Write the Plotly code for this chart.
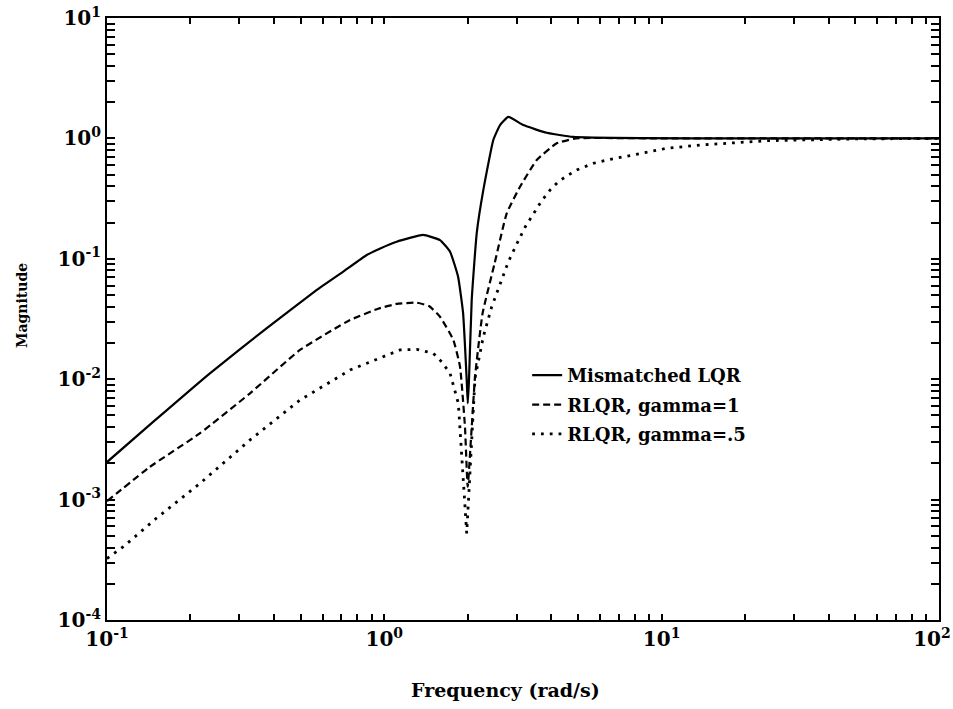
import plotly.graph_objects as go

# Frequency (rad/s) and magnitude readings
freq_lqr = [0.1, 0.147, 0.235, 0.377, 0.571, 0.711, 0.864, 0.967, 1.108, 1.379, 1.588,
            1.726, 1.845, 1.923, 1.982, 2.0, 2.02, 2.066, 2.154, 2.275, 2.472, 2.614,
            2.801, 3.171, 3.852, 4.79, 8.36, 20, 100]
mag_lqr = [2.05e-3, 4.44e-3, 1.12e-2, 2.66e-2, 5.51e-2, 0.0782, 0.1076, 0.122, 0.1387,
           0.158, 0.143, 0.1146, 0.0710, 0.0355, 0.00984, 0.0063, 0.00984, 0.0455,
           0.1637, 0.372, 0.970, 1.29, 1.51, 1.29, 1.114, 1.029, 1.005, 1.0, 1.0]

freq_g1 = [0.1, 0.143, 0.2165, 0.328, 0.4966, 0.752, 0.95, 1.108, 1.309, 1.45, 1.588,
           1.774, 1.875, 1.954, 1.998, 2.066, 2.124, 2.26, 2.5, 2.763, 3.086, 3.545,
           4.185, 4.9, 10, 100]
mag_g1 = [9.7e-4, 1.875e-3, 3.56e-3, 7.64e-3, 0.0175, 0.0310, 0.0385, 0.0422, 0.0432,
          0.0405, 0.0330, 0.0212, 0.0127, 0.0040, 0.00128, 0.0040, 0.0105, 0.035, 0.092,
          0.239, 0.397, 0.662, 0.910, 1.0, 1.0, 1.0]

freq_g05 = [0.1, 0.1145, 0.151, 0.2165, 0.328, 0.4966, 0.752, 1.139, 1.309, 1.502, 1.61,
            1.726, 1.849, 1.982, 2.124, 2.275, 2.44, 2.614, 2.801, 3.003, 3.217, 3.446,
            3.695, 3.958, 4.241, 4.548, 4.94, 5.67, 6.516, 7.907, 10.43, 13.75, 18.14,
            23.92, 31.55, 47.8, 100]
mag_g05 = [3.24e-4, 4.06e-4, 7.03e-4, 1.365e-3, 3.13e-3, 6.71e-3, 0.01191, 0.0175, 0.0177,
           0.0164, 0.01396, 0.0112, 0.0063, 5.25e-4, 0.01023, 0.02254, 0.04, 0.0625,
           0.0946, 0.1327, 0.1828, 0.2355, 0.304, 0.372, 0.4375, 0.4875, 0.547, 0.621,
           0.67, 0.728, 0.828, 0.881, 0.92, 0.957, 0.970, 0.989, 1.0]

names = ["Mismatched LQR", "RLQR, gamma=1", "RLQR, gamma=.5"]

x_tickvals = [0.1, 1, 10, 100]
x_ticktext = ["10<sup>-1</sup>", "10<sup>0</sup>", "10<sup>1</sup>",
              "10<sup>2</sup>&nbsp;&nbsp;"]
y_tickvals = [1e-4, 1e-3, 1e-2, 1e-1, 1, 10]
y_ticktext = ["10<sup>-4</sup>", "10<sup>-3</sup>", "10<sup>-2</sup>",
              "10<sup>-1</sup>", "10<sup>0</sup>", "10<sup>1</sup>"]

FONT = "DejaVu Serif"

fig = go.Figure()
fig.add_trace(go.Scatter(x=freq_lqr, y=mag_lqr, mode="lines", name=names[0], legendgroup="a",
                         line=dict(color="black", width=2.2, shape="spline", smoothing=0.4)))
fig.add_trace(go.Scatter(x=freq_g1, y=mag_g1, mode="lines", name=names[1], legendgroup="b",
                         line=dict(color="black", width=2.2, dash="7px,4px",
                                   shape="spline", smoothing=0.4)))
fig.add_trace(go.Scatter(x=freq_g05, y=mag_g05, mode="lines", name=names[2], legendgroup="c",
                         line=dict(color="black", width=2.8, dash="2.8px,6px")))

axis_common = dict(
    type="log", showgrid=False, zeroline=False, automargin=False,
    showline=True, linecolor="black", linewidth=2, mirror="ticks",
    ticks="inside", tickcolor="black", tickwidth=1.5, ticklabeloverflow="allow",
    tickfont=dict(family=FONT, size=20, color="black", weight="bold"),
)

fig.update_xaxes(range=[-1, 2.0002], ticklen=6, tickvals=x_tickvals, ticktext=x_ticktext,
                 minor=dict(ticks="inside", ticklen=6, tickcolor="black", tickwidth=1.5,
                            tickvals=[k * 10 ** e for e in (-1, 0, 1) for k in range(2, 10)]),
                 **axis_common)
fig.update_yaxes(range=[-4, 1.0002], ticklen=8, tickvals=y_tickvals, ticktext=y_ticktext,
                 minor=dict(ticks="inside", ticklen=8, tickcolor="black", tickwidth=1.5,
                            tickvals=[k * 10 ** e for e in (-4, -3, -2, -1, 0) for k in range(2, 10)]),
                 **axis_common)

fig.update_layout(
    width=953, height=709,
    margin=dict(l=107, r=14, t=18, b=89),
    plot_bgcolor="white", paper_bgcolor="white",
    font=dict(family=FONT, color="black", weight="bold"),
    showlegend=True,
    legend=dict(x=0.505, y=0.437, xanchor="left", yanchor="top",
                bgcolor="rgba(0,0,0,0)", borderwidth=0, traceorder="grouped",
                font=dict(family=FONT, size=18, color="black", weight="bold"),
                itemwidth=30, tracegroupgap=3),
    annotations=[
        dict(text="Frequency (rad/s)", xref="paper", yref="paper",
             x=(505 - 107) / 832, y=-(690 - 620) / 602, xanchor="center", yanchor="middle",
             showarrow=False, font=dict(family=FONT, size=19, color="black", weight="bold")),
        dict(text="Magnitude", xref="paper", yref="paper", textangle=-90,
             x=-(107 - 22) / 832, y=1 - (306 - 18) / 602, xanchor="center", yanchor="middle",
             showarrow=False, font=dict(family=FONT, size=14, color="black", weight="bold")),
    ],
)

fig.write_html("out.html")
